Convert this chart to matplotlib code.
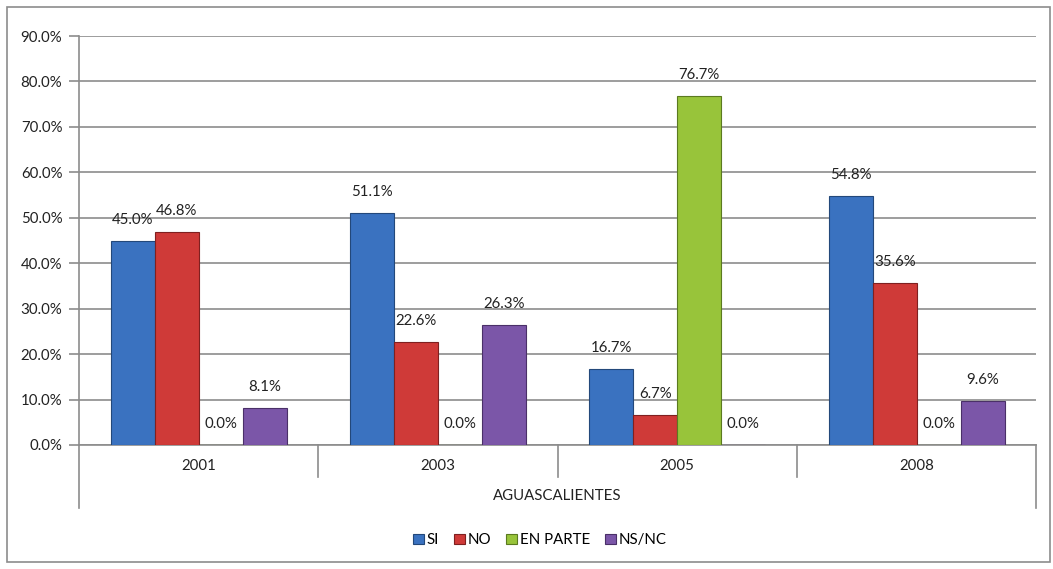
import matplotlib.pyplot as plt
from matplotlib.patches import Rectangle
from matplotlib.lines import Line2D
import numpy as np

plt.rcParams['font.family'] = ['Lato', 'DejaVu Sans']

# Data
years = ['2001', '2003', '2005', '2008']
series = ['SI', 'NO', 'EN PARTE', 'NS/NC']
si = [45.0, 51.1, 16.7, 54.8]
no = [46.8, 22.6, 6.7, 35.6]
en_parte = [0.0, 0.0, 76.7, 0.0]
ns_nc = [8.1, 26.3, 0.0, 9.6]
region = 'AGUASCALIENTES'
yticks = [0, 10, 20, 30, 40, 50, 60, 70, 80, 90]

colors = ['#3a72c0', '#cf3a38', '#98c43a', '#7b56a8']
edges = ['#23487a', '#7f2020', '#5b7a20', '#4a3068']
FS = 10.8

fig = plt.figure(figsize=(10.53, 5.69), dpi=100)
W, H = 1053, 569
ax = fig.add_axes([79 / W, 1 - 445 / H, (1036 - 79) / W, (445 - 36) / H])

bar_w = 44 / 239.5
x = np.arange(len(years))
values = [si, no, en_parte, ns_nc]
for i, (name, vals) in enumerate(zip(series, values)):
    pos = x + 32 / 239.5 + bar_w * (i + 0.5)
    ax.bar(pos, vals, width=bar_w, color=colors[i], edgecolor=edges[i],
           linewidth=0.8, label=name, zorder=3)
    for p, v in zip(pos, vals):
        ax.annotate(f'{v:.1f}%', (p, v), textcoords='offset pixels',
                    xytext=(0, 21), ha='center', va='center', fontsize=FS,
                    color='#222222', zorder=4)

ax.set_xlim(0, len(years))
ax.set_ylim(0, 90)
ax.set_yticks(yticks)
ax.set_yticklabels([f'{t:.1f}%' for t in yticks], fontsize=FS, color='#222222')
ax.yaxis.grid(True, color='#8c8c8c', linewidth=1.2, zorder=0)
ax.tick_params(axis='y', length=7, color='#8c8c8c', width=1.2, pad=5)
ax.set_xticks([])
for s in ['top', 'right']:
    ax.spines[s].set_visible(False)
ax.spines['left'].set_color('#8c8c8c')
ax.spines['left'].set_linewidth(1.2)
ax.spines['bottom'].set_color('#8c8c8c')
ax.spines['bottom'].set_linewidth(1.2)

# category axis with group separators and region label
sep_len = (477 - 445) / (445 - 36)
outer_len = (508 - 445) / (445 - 36)
trans = ax.get_xaxis_transform()
for k in range(1, len(years)):
    ax.add_line(Line2D([k, k], [0, -sep_len], transform=trans, color='#8c8c8c',
                       lw=1.2, clip_on=False))
for k in [0, len(years)]:
    ax.add_line(Line2D([k, k], [0, -outer_len], transform=trans, color='#8c8c8c',
                       lw=1.2, clip_on=False))
for k, yr in enumerate(years):
    ax.text(k + 0.5, -(466 - 445) / (445 - 36), yr, transform=trans,
            ha='center', va='center', fontsize=FS, color='#222222')
ax.text(len(years) / 2, -(496 - 445) / (445 - 36), region, transform=trans,
        ha='center', va='center', fontsize=FS, color='#222222')

fig.legend(loc='center', bbox_to_anchor=(540 / W, 1 - 540 / H), ncol=4,
           frameon=False, fontsize=FS, handlelength=0.7, handleheight=0.7,
           handletextpad=0.2, columnspacing=1.0)

fig.patches.append(Rectangle((7 / W, 1 - 562 / H), (1050 - 7) / W, (562 - 7) / H,
                             transform=fig.transFigure, fill=False,
                             edgecolor='#8c8c8c', linewidth=1.2))

fig.savefig('out.png', dpi=100)
